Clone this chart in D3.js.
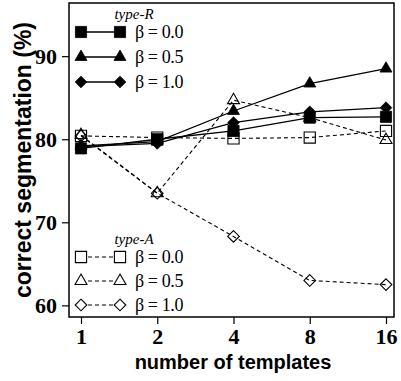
<!DOCTYPE html>
<html><head><meta charset="utf-8">
<script src="https://cdn.jsdelivr.net/npm/d3@7"></script>
<style>body{margin:0;background:#fff}svg{display:block}</style>
</head><body>
<svg id="c" width="401" height="381"></svg>
<script>
const templates = [1, 2, 4, 8, 16];
const yTicks = [60, 70, 80, 90];
const betas = ["β = 0.0", "β = 0.5", "β = 1.0"];
const typeR_b00 = [78.9, 80.0, 81.0, 82.6, 82.7];
const typeR_b05 = [79.2, 79.7, 83.4, 86.7, 88.5];
const typeR_b10 = [79.1, 79.5, 82.0, 83.3, 83.8];
const typeA_b00 = [80.4, 80.2, 80.1, 80.2, 81.0];
const typeA_b05 = [80.5, 73.5, 84.7, 82.6, 79.9];
const typeA_b10 = [80.4, 73.5, 68.3, 63.0, 62.5];

const svg = d3.select("#c");
const L = 69, R = 394, T = 3, B = 317;
const x = d3.scaleLog().base(2).domain([1, 16]).range([81, 386]);
const y = d3.scaleLinear().domain([58.6, 96.4]).range([B, T]);

const diamond = {draw(ctx, size){ const r = Math.sqrt(size/2); ctx.moveTo(0,-r); ctx.lineTo(r,0); ctx.lineTo(0,r); ctx.lineTo(-r,0); ctx.closePath(); }};
const shapes = [d3.symbolSquare, d3.symbolTriangle, diamond];
const sizes = [125, 62, 68];

const series = [
  {type: "A", b: 0, v: typeA_b00}, {type: "A", b: 1, v: typeA_b05}, {type: "A", b: 2, v: typeA_b10},
  {type: "R", b: 0, v: typeR_b00}, {type: "R", b: 1, v: typeR_b05}, {type: "R", b: 2, v: typeR_b10}
];

const line = d3.line().x((d, i) => x(templates[i])).y(d => y(d));

series.forEach(s => {
  const filled = s.type === "R";
  svg.append("path").attr("d", line(s.v)).attr("fill", "none")
    .attr("stroke", "#000").attr("stroke-width", filled ? 1.3 : 1.1)
    .attr("stroke-dasharray", filled ? null : "4,3");
  svg.selectAll(null).data(s.v).enter().append("path")
    .attr("transform", (d, i) => `translate(${x(templates[i])},${y(d)})`)
    .attr("d", d3.symbol().type(shapes[s.b]).size(sizes[s.b]))
    .attr("fill", filled ? "#000" : "none")
    .attr("stroke", "#000").attr("stroke-width", filled ? 0.8 : 1.1);
});

// frame
svg.append("rect").attr("x", L).attr("y", T).attr("width", R - L).attr("height", B - T)
  .attr("fill", "none").attr("stroke", "#000").attr("stroke-width", 1.5);

// axes
const serif = "'Liberation Serif', 'Times New Roman', serif";
const sans = "'Liberation Sans', Arial, sans-serif";
const yAxis = svg.append("g").attr("transform", `translate(${L},0)`)
  .call(d3.axisLeft(y).tickValues(yTicks).tickSize(7).tickPadding(5));
const xAxis = svg.append("g").attr("transform", `translate(0,${B})`)
  .call(d3.axisBottom(x).tickValues(templates).tickFormat(d3.format("d")).tickSize(7));
[yAxis, xAxis].forEach(a => {
  a.attr("font-family", serif).attr("font-size", 22).attr("font-weight", "bold");
  a.select(".domain").remove();
  a.selectAll(".tick line").attr("stroke", "#000").attr("stroke-width", 1.2);
  a.selectAll(".tick text").attr("fill", "#000")
    .attr("font-family", serif).attr("font-weight", "bold").attr("font-size", 22);
});
xAxis.selectAll(".tick text").attr("y", 27).attr("dy", 0);
yAxis.selectAll(".tick text").attr("dy", "0.34em");

// axis titles
svg.append("text").attr("x", 233).attr("y", 369).attr("text-anchor", "middle")
  .attr("font-family", sans).attr("font-weight", "bold")
  .attr("font-size", 20).text("number of templates");
svg.append("text").attr("transform", "translate(31,160) rotate(-90)").attr("text-anchor", "middle")
  .attr("font-family", sans).attr("font-weight", "bold")
  .attr("font-size", 23).text("correct segmentation (%)");

// legends
function legend(title, filled, titleY, rowYs) {
  svg.append("text").attr("x", 134).attr("y", titleY).attr("text-anchor", "middle")
    .attr("font-family", serif).attr("font-style", "italic")
    .attr("font-size", 15).text(title);
  betas.forEach((b, i) => {
    const yy = rowYs[i];
    svg.append("line").attr("x1", 81).attr("x2", 120).attr("y1", yy).attr("y2", yy)
      .attr("stroke", "#000").attr("stroke-width", filled ? 1.3 : 1.1)
      .attr("stroke-dasharray", filled ? null : "4,3");
    [81, 120].forEach(xx => {
      svg.append("path").attr("transform", `translate(${xx},${yy})`)
        .attr("d", d3.symbol().type(shapes[i]).size(sizes[i]))
        .attr("fill", filled ? "#000" : "#fff").attr("stroke", "#000")
        .attr("stroke-width", filled ? 0.8 : 1.1);
    });
    svg.append("text").attr("x", 135).attr("y", yy).attr("dy", "0.35em")
      .attr("font-family", serif).attr("font-size", 18)
      .attr("letter-spacing", -0.4).text(b);
  });
}
legend("type-R", true, 19, [32, 57, 82]);
legend("type-A", false, 244, [257, 281, 305]);
</script>
</body></html>
